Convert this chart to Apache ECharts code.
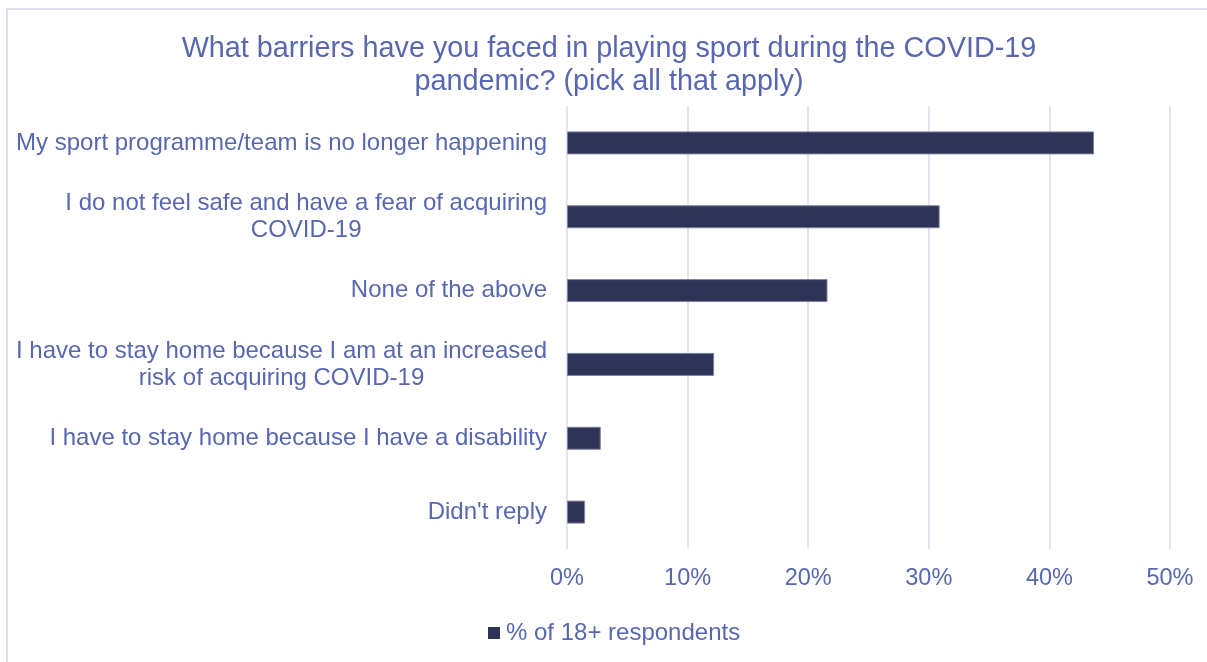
<!DOCTYPE html>
<html>
<head>
<meta charset="utf-8">
<script src="https://cdn.jsdelivr.net/npm/echarts@6/dist/echarts.min.js"></script>
<style>
  html, body { margin: 0; padding: 0; background: #ffffff; }
  #chart { width: 1207px; height: 662px; }
</style>
</head>
<body>
<div id="chart"></div>
<script>
// Survey answers, listed top to bottom as they appear
const categories = [
  'My sport programme/team is no longer happening',
  'I do not feel safe and have a fear of acquiring\nCOVID-19',
  'None of the above',
  'I have to stay home because I am at an increased\nrisk of acquiring COVID-19',
  'I have to stay home because I have a disability',
  "Didn't reply"
];
// Share of 18+ respondents (%)
const shares = [43.7, 30.9, 21.6, 12.2, 2.8, 1.5];
const seriesName = '% of 18+ respondents';
const titleText = 'What barriers have you faced in playing sport during the COVID-19\npandemic? (pick all that apply)';

const textColor = '#5867b0';
const barColor = '#2d3457';
const fontFamily = '"Liberation Sans", Arial, sans-serif';
const labelSize = 24;

const chart = echarts.init(document.getElementById('chart'), null, { renderer: 'canvas' });

chart.setOption({
  animation: false,
  backgroundColor: '#ffffff',
  graphic: [{
    type: 'rect',
    shape: { x: 7, y: 9, width: 1210, height: 670 },
    style: { fill: 'none', stroke: '#dcdfee', lineWidth: 2 },
    silent: true
  }],
  title: {
    text: titleText,
    left: 609,
    top: 33,
    padding: 0,
    textAlign: 'center',
    textStyle: {
      color: textColor,
      fontFamily: fontFamily,
      fontSize: 28.8,
      fontWeight: 'normal',
      lineHeight: 33
    }
  },
  legend: {
    data: [seriesName],
    top: 621,
    left: 488,
    padding: 0,
    itemWidth: 12,
    itemHeight: 12,
    itemGap: 6,
    icon: 'rect',
    itemStyle: { borderWidth: 0 },
    textStyle: { color: textColor, fontFamily: fontFamily, fontSize: labelSize, padding: [0, 0, 0, 1] }
  },
  grid: { left: 567, right: 37, top: 106, bottom: 113, containLabel: false },
  xAxis: {
    type: 'value',
    min: 0,
    max: 50,
    interval: 10,
    axisLine: { show: false },
    axisTick: { show: false },
    splitLine: { show: true, lineStyle: { color: '#d9dced', width: 1.5 } },
    axisLabel: {
      formatter: '{value}%',
      color: textColor,
      fontFamily: fontFamily,
      fontSize: 23.5,
      margin: 18
    }
  },
  yAxis: {
    type: 'category',
    data: categories,
    inverse: true,
    axisLine: { show: false },
    axisTick: { show: false },
    axisLabel: {
      color: textColor,
      fontFamily: fontFamily,
      fontSize: labelSize,
      margin: 20,
      align: 'right',
      formatter: function (v) {
        return v.split('\n').map(function (l) { return '{c|' + l + '}'; }).join('\n');
      },
      rich: {
        c: {
          color: textColor,
          fontFamily: fontFamily,
          fontSize: labelSize,
          lineHeight: 27,
          align: 'center'
        }
      }
    }
  },
  series: [{
    name: seriesName,
    type: 'bar',
    data: shares,
    barWidth: 23,
    itemStyle: { color: barColor, borderColor: '#7d83a3', borderWidth: 1 }
  }]
});
</script>
</body>
</html>
